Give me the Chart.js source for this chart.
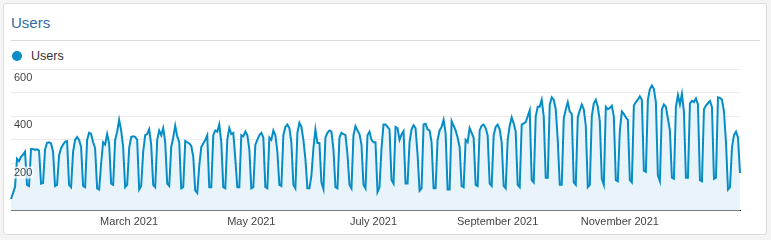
<!DOCTYPE html>
<html>
<head>
<meta charset="utf-8">
<script src="https://cdn.jsdelivr.net/npm/chart.js@4"></script>
<style>
  body { margin: 0; background: #f4f4f4; font-family: Arial, "Liberation Sans", sans-serif; }
  .card { position: absolute; left: 3px; top: 3px; width: 762px; height: 230px; background: #fff; border: 1px solid #dcdcdc; border-radius: 3px; }
  .title { position: absolute; left: 7px; top: 10px; font-size: 15px; color: #2f6da3; }
  .sep { position: absolute; left: 7px; right: 6px; top: 36px; border-top: 1px solid #d9d9d9; }
  .legend { position: absolute; left: 8px; top: 45px; font-size: 12.5px; color: #333; }
  .legend .dot { display: inline-block; width: 10px; height: 10px; border-radius: 50%; background: #058dc7; vertical-align: -1px; margin-right: 9px; }
  #chart { position: absolute; left: 0; top: 0; }
</style>
</head>
<body>
<div class="card">
  <div class="title">Users</div>
  <div class="sep"></div>
  <div class="legend"><span class="dot"></span>Users</div>
</div>
<canvas id="chart" width="771" height="240"></canvas>
<script>
// daily users, 1 Jan 2021 - 31 Dec 2021 (one row per week, Mon..Sun)
const users = [
  50, 75, 100,
  220, 210, 228, 238, 250, 110, 105,
  262, 262, 258, 260, 255, 115, 118,
  260, 288, 290, 285, 250, 105, 110,
  235, 265, 280, 292, 295, 110, 100,
  250, 300, 312, 300, 270, 105, 100,
  300, 330, 325, 290, 265, 95, 90,
  200, 290, 280, 325, 285, 115, 110,
  300, 335, 385, 340, 270, 100, 110,
  265, 312, 315, 313, 300, 90, 105,
  250, 320, 325, 345, 280, 110, 100,
  300, 340, 320, 350, 290, 115, 105,
  270, 310, 360, 315, 290, 95, 100,
  295, 290, 285, 275, 230, 85, 75,
  190, 270, 285, 300, 320, 100, 100,
  320, 340, 335, 365, 290, 100, 95,
  300, 350, 325, 330, 220, 100, 100,
  320, 315, 335, 320, 260, 95, 100,
  280, 300, 320, 330, 310, 100, 95,
  310, 300, 340, 320, 250, 110, 105,
  320, 355, 365, 350, 290, 110, 95,
  330, 372, 355, 300, 220, 95, 95,
  150, 265, 344, 287, 287, 120, 92,
  310, 330, 340, 335, 260, 100, 95,
  310, 330, 325, 320, 240, 110, 95,
  320, 358, 340, 325, 280, 110, 95,
  320, 335, 300, 290, 290, 80, 100,
  265, 365, 365, 355, 345, 130, 115,
  355, 350, 300, 323, 337, 115, 115,
  290, 345, 362, 350, 240, 85, 95,
  365, 368, 345, 340, 290, 95, 95,
  300, 340, 355, 385, 330, 90, 90,
  380, 360, 340, 310, 270, 105, 100,
  300, 290, 350, 330, 310, 110, 105,
  340, 360, 365, 350, 320, 115, 105,
  320, 355, 365, 345, 290, 105, 95,
  300, 360, 395, 370, 335, 110, 100,
  365, 370, 375, 400, 425, 130, 120,
  400, 440, 440, 470, 400, 140, 140,
  450, 480, 470, 430, 300, 110, 110,
  390, 430, 460, 420, 410, 120, 110,
  395, 425, 450, 430, 360, 100, 110,
  400, 455, 470, 440, 380, 135, 110,
  440, 430, 435, 445, 400, 130, 125,
  340, 420, 410, 395, 385, 130, 120,
  445, 460, 470, 485, 470, 170, 165,
  470, 515, 530, 515, 460, 150, 125,
  430, 450, 440, 390, 340, 140, 135,
  440, 490, 450, 495, 420, 140, 140,
  455, 465, 460, 475, 450, 130, 125,
  430, 445, 455, 465, 440, 135, 140,
  480, 478, 470, 420, 290, 90, 100,
  270, 320, 335, 310, 160
];

const tickDates = ['2021-03-01', '2021-05-01', '2021-07-01', '2021-09-01', '2021-11-01'];
const tickLabels = ['March 2021', 'May 2021', 'July 2021', 'September 2021', 'November 2021'];
const yLabels = [200, 400, 600];

const days = [];
for (let i = 0; i < users.length; i++) {
  const d = new Date(Date.UTC(2021, 0, 1 + i));
  days.push(d.toISOString().slice(0, 10));
}

// y labels sit just under their gridline, on top of the line
const yLabelPlugin = {
  id: 'yLabels',
  afterDatasetsDraw(chart) {
    const c = chart.ctx;
    const y = chart.scales.y;
    c.save();
    c.font = '11px Arial';
    c.textBaseline = 'middle';
    c.textAlign = 'left';
    yLabels.forEach(function(v) {
      const py = y.getPixelForValue(v) + 9;
      const px = chart.chartArea.left + 3;
      const w = c.measureText(String(v)).width;
      c.fillStyle = 'rgba(255,255,255,0.75)';
      c.fillRect(px - 1, py - 6, w + 2, 12);
      c.fillStyle = '#444';
      c.fillText(String(v), px, py);
    });
    c.restore();
  }
};

const ctx = document.getElementById('chart').getContext('2d');
new Chart(ctx, {
  type: 'line',
  data: {
    labels: days,
    datasets: [{
      label: 'Users',
      data: users,
      borderColor: '#058dc7',
      backgroundColor: '#e8f4fa',
      borderWidth: 2,
      fill: 'origin',
      pointRadius: 0,
      tension: 0
    }]
  },
  options: {
    responsive: false,
    animation: false,
    layout: { padding: { left: 11, right: 31, top: 69, bottom: 6 } },
    plugins: { legend: { display: false }, tooltip: { enabled: false } },
    scales: {
      x: {
        grid: { display: false, drawTicks: false },
        border: { display: true, color: '#222', width: 1 },
        ticks: {
          autoSkip: false,
          maxRotation: 0,
          padding: 5,
          color: '#444',
          font: { family: 'Arial', size: 11 },
          callback: function(v, i) {
            const k = tickDates.indexOf(days[i]);
            return k >= 0 ? tickLabels[k] : '';
          }
        }
      },
      y: {
        min: 0,
        max: 600,
        grid: { color: '#ebebeb', drawTicks: false },
        border: { display: false },
        ticks: { stepSize: 100, display: false }
      }
    }
  },
  plugins: [yLabelPlugin]
});
</script>
</body>
</html>
